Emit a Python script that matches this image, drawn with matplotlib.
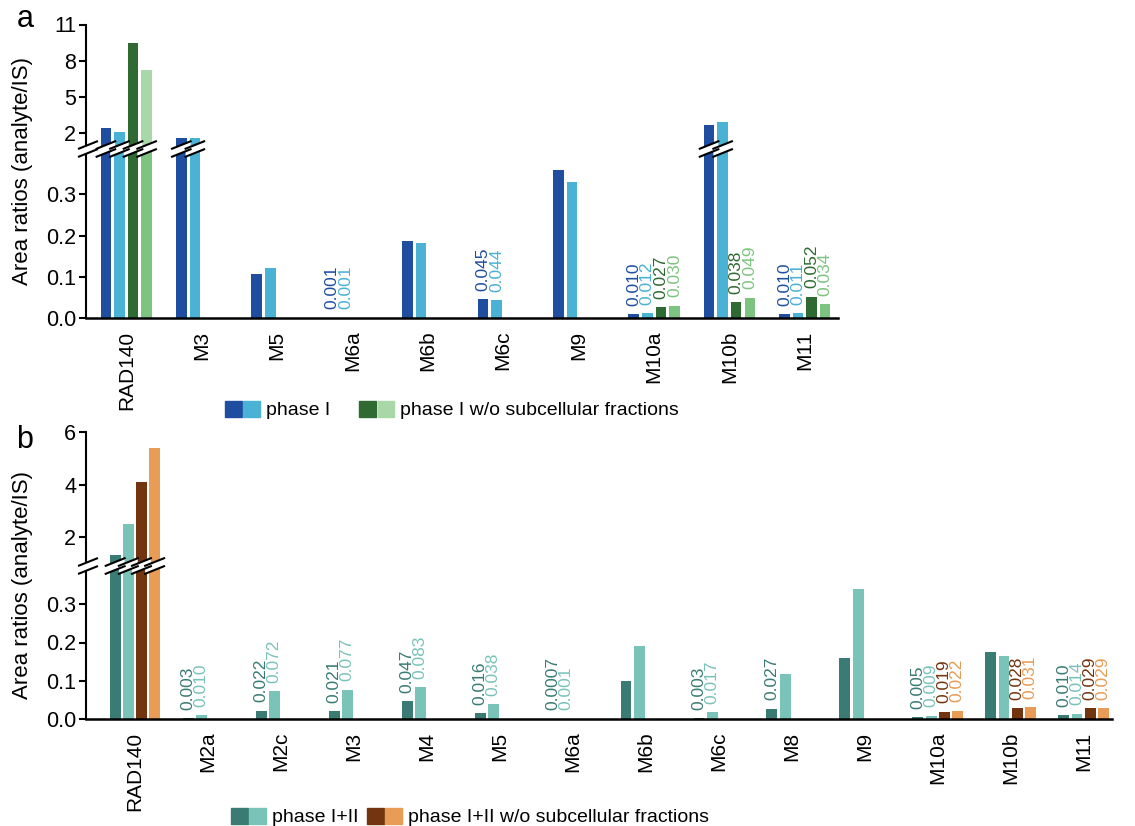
import numpy as np
import matplotlib.pyplot as plt
from matplotlib.patches import Polygon, Patch
from matplotlib.lines import Line2D
from matplotlib.transforms import IdentityTransform
from matplotlib.legend_handler import HandlerTuple
from matplotlib.ticker import FormatStrFormatter

plt.rcParams['font.family'] = ['Liberation Sans', 'DejaVu Sans']

nan = np.nan
W, H = 1135, 826

# panel a
cats_a = ['RAD140', 'M3', 'M5', 'M6a', 'M6b', 'M6c', 'M9', 'M10a', 'M10b', 'M11']
a_p1_dark = [2.39, 1.60, 0.107, 0.001, 0.188, 0.045, 0.358, 0.010, 2.66, 0.010]
a_p1_light = [2.10, 1.58, 0.122, 0.001, 0.183, 0.044, 0.329, 0.012, 2.88, 0.011]
a_wo_dark = [9.45, nan, nan, nan, nan, nan, nan, 0.027, 0.038, 0.052]
a_wo_light = [7.26, nan, nan, nan, nan, nan, nan, 0.030, 0.049, 0.034]
a_lbl_p1 = ['M6a', 'M6c', 'M10a', 'M11']
a_lbl_wo = ['M10a', 'M10b', 'M11']

# panel b
cats_b = ['RAD140', 'M2a', 'M2c', 'M3', 'M4', 'M5', 'M6a', 'M6b', 'M6c', 'M8', 'M9',
          'M10a', 'M10b', 'M11']
b_p12_dark = [1.33, 0.003, 0.022, 0.021, 0.047, 0.016, 0.0007, 0.100, 0.003, 0.027, 0.160,
              0.005, 0.176, 0.010]
b_p12_light = [2.50, 0.010, 0.072, 0.077, 0.083, 0.038, 0.001, 0.190, 0.017, 0.118, 0.340,
               0.009, 0.166, 0.014]
b_wo_dark = [4.12, nan, nan, nan, nan, nan, nan, nan, nan, nan, nan, 0.019, 0.028, 0.029]
b_wo_light = [5.39, nan, nan, nan, nan, nan, nan, nan, nan, nan, nan, 0.022, 0.031, 0.029]
b_lbl_dark = ['M2a', 'M2c', 'M3', 'M4', 'M5', 'M6a', 'M6c', 'M8', 'M10a', 'M11']
b_lbl_light = ['M2a', 'M2c', 'M3', 'M4', 'M5', 'M6a', 'M6c', 'M10a', 'M11']
b_lbl_wo = ['M10a', 'M10b', 'M11']

blue_d, blue_l = '#1f4ea0', '#4ab2d5'
green_d, green_l, green_l_up = '#2e6a31', '#7cc47f', '#a8d8a7'
teal_d, teal_l = '#3a7b73', '#7ac3b9'
brown, orange = '#73350f', '#e89c55'

fig = plt.figure(figsize=(W / 100, H / 100), dpi=100)


def px_axes(left, top, right, bottom):
    return fig.add_axes([left / W, 1 - bottom / H, (right - left) / W, (bottom - top) / H])


def fmt(v):
    return f'{v:.3f}' if v >= 0.001 else f'{v:.4f}'


def panel(ax_up, ax_lo, cats, series, width, xlim, ylim_up, ylim_lo, yt_up):
    step = 0.18
    x0 = np.arange(len(cats))
    broken = []
    for k, (vals, c_lo, c_up, lbl) in enumerate(series):
        v = np.array(vals, float)
        xs = x0 + (k - 1.5) * step
        m = ~np.isnan(v)
        ax_lo.bar(xs[m], v[m], width, color=c_lo)
        ax_up.bar(xs[m], v[m], width, color=c_up)
        for c in lbl:
            i = cats.index(c)
            ax_lo.annotate(fmt(v[i]), (xs[i], v[i]), xytext=(0, 6), textcoords='offset points',
                           rotation=90, ha='center', va='bottom', fontsize=12.5, color=c_lo)
        for i in np.where(m & (np.nan_to_num(v) > ylim_lo[1]))[0]:
            broken.append(xs[i])

    for ax in (ax_up, ax_lo):
        ax.set_xlim(*xlim)
        ax.spines['top'].set_visible(False)
        ax.spines['right'].set_visible(False)
        ax.spines['left'].set_linewidth(1.5)
        ax.tick_params(axis='y', length=5, width=1.5, labelsize=15.5, pad=2)
    ax_up.spines['bottom'].set_visible(False)
    ax_up.set_xticks([])
    ax_up.set_ylim(*ylim_up)
    ax_up.set_yticks(yt_up)
    ax_up.yaxis.set_major_formatter(FormatStrFormatter('%d'))
    ax_lo.spines['bottom'].set_linewidth(1.8)
    ax_lo.set_ylim(*ylim_lo)
    ax_lo.set_yticks([0, 0.1, 0.2, 0.3])
    ax_lo.yaxis.set_major_formatter(FormatStrFormatter('%.1f'))
    ax_lo.set_xticks(x0)
    ax_lo.set_xticklabels(cats, rotation=90, fontsize=15)
    ax_lo.tick_params(axis='x', length=0, pad=9)

    # break marks
    sx, yc = ax_lo.transAxes.transform((0, 1))
    wpx = ax_lo.transData.transform((width, 0))[0] - ax_lo.transData.transform((0, 0))[0]
    marks = [(sx + 2, 9)]
    for xb in broken:
        marks.append((ax_lo.transData.transform((xb, 0))[0], wpx / 2 + 4))
    g, s = 8, 0.4
    for xc, hw in marks:
        fig.add_artist(Polygon([(xc - hw, yc - g / 2 - s * hw), (xc + hw, yc - g / 2 + s * hw),
                                (xc + hw, yc + g / 2 + s * hw), (xc - hw, yc + g / 2 - s * hw)],
                               closed=True, fc='white', ec='none',
                               transform=IdentityTransform(), zorder=10))
    for xc, hw in marks:
        for d in (-g / 2, g / 2):
            fig.add_artist(Line2D([xc - hw, xc + hw], [yc + d - s * hw, yc + d + s * hw],
                                  color='black', lw=1.5, transform=IdentityTransform(), zorder=11))


# panel a axes
a_up = px_axes(86, 24.5, 838, 149)
a_lo = px_axes(86, 149, 838, 318)
panel(a_up, a_lo, cats_a,
      [(a_p1_dark, blue_d, blue_d, a_lbl_p1),
       (a_p1_light, blue_l, blue_l, a_lbl_p1),
       (a_wo_dark, green_d, green_d, a_lbl_wo),
       (a_wo_light, green_l, green_l_up, a_lbl_wo)],
      0.14, (-0.534, 9.44), (0.673, 11), (0, 0.41), [2, 5, 8, 11])

# panel b axes
b_up = px_axes(86, 432.3, 1112, 566)
b_lo = px_axes(86, 566, 1112, 719)
panel(b_up, b_lo, cats_b,
      [(b_p12_dark, teal_d, teal_d, b_lbl_dark),
       (b_p12_light, teal_l, teal_l, b_lbl_light),
       (b_wo_dark, brown, brown, b_lbl_wo),
       (b_wo_light, orange, orange, b_lbl_wo)],
      0.15, (-0.67, 13.39), (0.907, 6), (0, 0.40), [2, 4, 6])

fig.text(23 / W, 1 - 171 / H, 'Area ratios (analyte/IS)', rotation=90, fontsize=16,
         ha='center', va='center')
fig.text(23 / W, 1 - 585 / H, 'Area ratios (analyte/IS)', rotation=90, fontsize=16,
         ha='center', va='center')
fig.text(25 / W, 1 - 19 / H, 'a', fontsize=22, ha='center', va='center')
fig.text(25 / W, 1 - 440 / H, 'b', fontsize=22, ha='center', va='center')

hm = {tuple: HandlerTuple(ndivide=None, pad=0.08)}
fig.legend(handles=[(Patch(color=blue_d), Patch(color=blue_l)),
                    (Patch(color=green_d), Patch(color=green_l_up))],
           labels=['phase I', 'phase I w/o subcellular fractions'], handler_map=hm,
           loc='center left', bbox_to_anchor=(225 / W, 1 - 410 / H), ncol=2, frameon=False,
           fontsize=14, handlelength=1.8, handleheight=0.9, handletextpad=0.3,
           columnspacing=1.5, borderpad=0, borderaxespad=0)
fig.legend(handles=[(Patch(color=teal_d), Patch(color=teal_l)),
                    (Patch(color=brown), Patch(color=orange))],
           labels=['phase I+II', 'phase I+II w/o subcellular fractions'], handler_map=hm,
           loc='center left', bbox_to_anchor=(231 / W, 1 - 817 / H), ncol=2, frameon=False,
           fontsize=14, handlelength=1.8, handleheight=0.9, handletextpad=0.3,
           columnspacing=0.45, borderpad=0, borderaxespad=0)

fig.savefig('out.png', dpi=100)
